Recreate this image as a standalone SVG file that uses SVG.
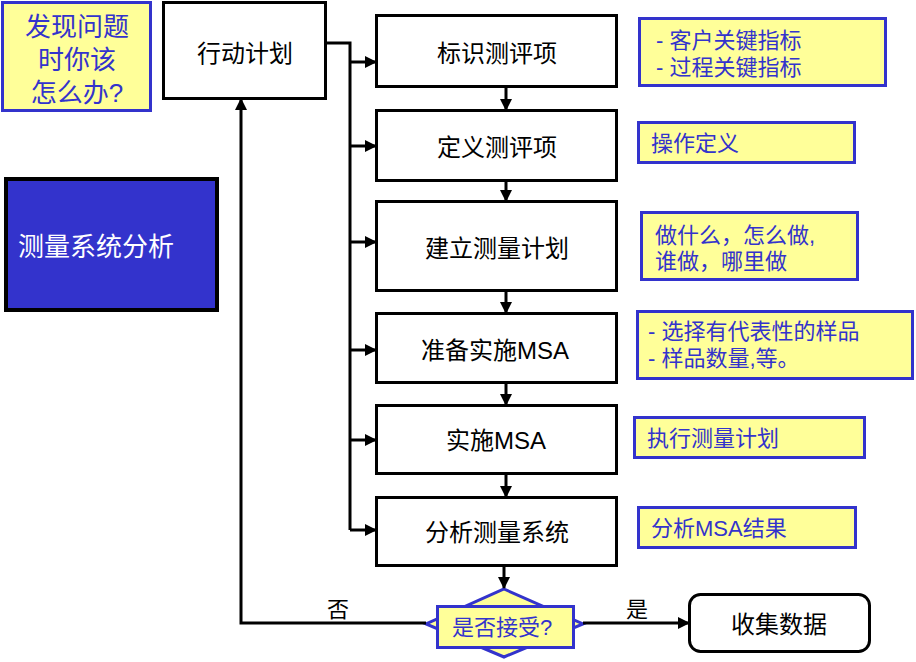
<svg xmlns="http://www.w3.org/2000/svg" width="916" height="662" viewBox="0 0 916 662">
<defs>
<marker id="ah" markerUnits="userSpaceOnUse" markerWidth="12" markerHeight="12" refX="11" refY="6" orient="auto">
<path d="M0,0 L12,6 L0,12 Z" fill="#000"/>
</marker>
<style>
.box{fill:#fff;stroke:#000;stroke-width:3}
.note{fill:#FFFF99;stroke:#3333CC;stroke-width:3}
.t{font-family:"Liberation Sans","Noto Sans CJK SC",sans-serif;font-size:24px;fill:#000;text-anchor:middle}
.s{font-family:"Liberation Sans","Noto Sans CJK SC",sans-serif;font-size:22px;fill:#000;text-anchor:middle}
.n{font-family:"Liberation Sans","Noto Sans CJK SC",sans-serif;font-size:22px;fill:#3333CC}
.q{font-family:"Liberation Sans","Noto Sans CJK SC",sans-serif;font-size:26px;fill:#3333CC;text-anchor:middle}
.c{fill:none;stroke:#000;stroke-width:3}
.ca{fill:none;stroke:#000;stroke-width:3;marker-end:url(#ah)}
</style>
</defs>
<rect width="916" height="662" fill="#fff"/>

<g id="question">
<rect class="note" x="2.5" y="2.5" width="148" height="108"/>
<text class="q" x="77" y="36">发现问题</text>
<text class="q" x="77" y="69">时你该</text>
<text class="q" x="77" y="102">怎么办?</text>
</g>

<g id="msa-title">
<rect x="6" y="179" width="211" height="131" fill="#3333CC" stroke="#000" stroke-width="4"/>
<text x="18" y="256" font-family="Liberation Sans,'Noto Sans CJK SC',sans-serif" font-size="26" fill="#fff">测量系统分析</text>
</g>

<g id="action-plan">
<rect class="box" x="163.5" y="2.5" width="162" height="96"/>
<text class="t" x="245" y="62">行动计划</text>
</g>

<g id="step1">
<rect class="box" x="376.5" y="15.5" width="240" height="71"/>
<text class="t" x="497" y="62">标识测评项</text>
</g>
<g id="step2">
<rect class="box" x="376.5" y="110.5" width="240" height="70"/>
<text class="t" x="497" y="156">定义测评项</text>
</g>
<g id="step3">
<rect class="box" x="376.5" y="201.5" width="240" height="89"/>
<text class="t" x="497" y="257">建立测量计划</text>
</g>
<g id="step4">
<rect class="box" x="376.5" y="313.5" width="240" height="69"/>
<text class="t" x="495" y="359">准备实施MSA</text>
</g>
<g id="step5">
<rect class="box" x="376.5" y="405.5" width="240" height="68"/>
<text class="t" x="496" y="449">实施MSA</text>
</g>
<g id="step6">
<rect class="box" x="376.5" y="497.5" width="240" height="68"/>
<text class="t" x="497" y="541">分析测量系统</text>
</g>

<g id="decision">
<polygon points="504,589 583,624 504,657 426,624" fill="#FFFF99" stroke="#3333CC" stroke-width="3"/>
<rect class="note" x="437.5" y="606.5" width="136" height="41"/>
<text class="n" x="502" y="635" text-anchor="middle">是否接受?</text>
</g>

<g id="collect">
<rect class="box" x="689.5" y="594.5" width="180" height="57" rx="11"/>
<text class="t" x="779" y="633">收集数据</text>
</g>

<g id="note1">
<rect class="note" x="639.5" y="18.5" width="246" height="67"/>
<text class="n" x="656" y="48">- 客户关键指标</text>
<text class="n" x="656" y="75">- 过程关键指标</text>
</g>
<g id="note2">
<rect class="note" x="638.5" y="122.5" width="216" height="40"/>
<text class="n" x="651" y="151">操作定义</text>
</g>
<g id="note3">
<rect class="note" x="641.5" y="212.5" width="216" height="67"/>
<text class="n" x="655" y="243">做什么，怎么做,</text>
<text class="n" x="655" y="269">谁做，哪里做</text>
</g>
<g id="note4">
<rect class="note" x="637.5" y="311.5" width="275" height="67"/>
<text class="n" x="648" y="339">- 选择有代表性的样品</text>
<text class="n" x="648" y="366">- 样品数量,等。</text>
</g>
<g id="note5">
<rect class="note" x="634.5" y="417.5" width="230" height="40"/>
<text class="n" x="647" y="446">执行测量计划</text>
</g>
<g id="note6">
<rect class="note" x="638.5" y="507.5" width="217" height="40"/>
<text class="n" x="651" y="536">分析MSA结果</text>
</g>

<g id="connectors">
<polyline class="c" points="325,43 350,43 350,530"/>
<line class="ca" x1="350" y1="62" x2="376" y2="62"/>
<line class="ca" x1="350" y1="146" x2="376" y2="146"/>
<line class="ca" x1="350" y1="242" x2="376" y2="242"/>
<line class="ca" x1="350" y1="350" x2="376" y2="350"/>
<line class="ca" x1="350" y1="440" x2="376" y2="440"/>
<line class="ca" x1="350" y1="530" x2="376" y2="530"/>
<line class="ca" x1="506" y1="87" x2="506" y2="110"/>
<line class="ca" x1="506" y1="181" x2="506" y2="201"/>
<line class="ca" x1="506" y1="291" x2="506" y2="313"/>
<line class="ca" x1="506" y1="383" x2="506" y2="405"/>
<line class="ca" x1="506" y1="474" x2="506" y2="497"/>
<line class="ca" x1="504" y1="566" x2="504" y2="588"/>
<polyline class="ca" points="426,623 241,623 241,99"/>
<line class="ca" x1="583" y1="623" x2="689" y2="623"/>
<text class="s" x="338" y="617">否</text>
<text class="s" x="637" y="617">是</text>
</g>
</svg>
